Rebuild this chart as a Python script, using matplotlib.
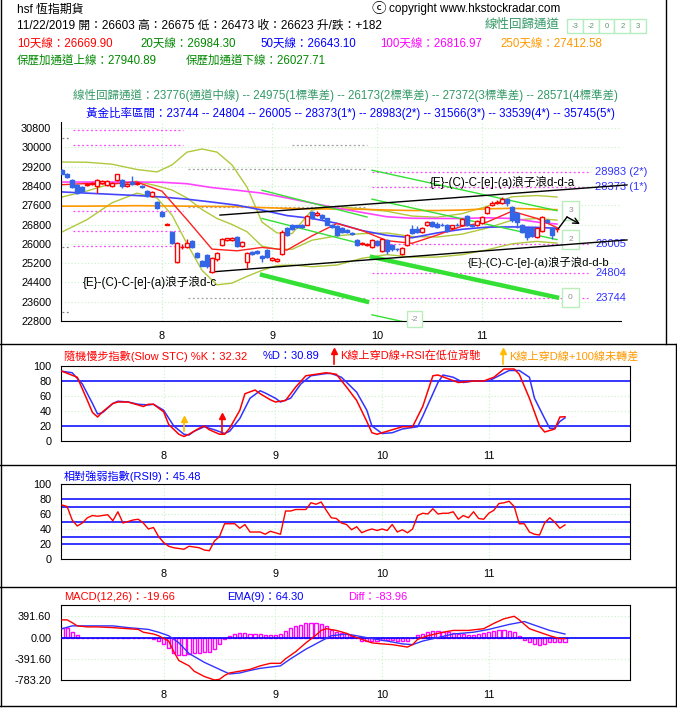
import numpy as np
import matplotlib
matplotlib.use('Agg')
import matplotlib.pyplot as plt
from matplotlib.lines import Line2D
from matplotlib.patches import Rectangle

plt.rcParams['font.family'] = ['Liberation Sans', 'Noto Sans CJK TC']

W, H = 677, 717

# ---------------- data ----------------
opens = [29050, 28880, 28640, 28430, 28340, 28440, 28460, 28400, 28500, 28420,
         28400, 28650, 28640, 28400, 28560, 28480, 28400, 28200, 27990, 27720,
         27320, 26800, 26500, 25250, 25850, 25880, 26100, 25620, 25280, 25520,
         24840, 25350, 25950, 26160, 26150, 26280, 25900, 25250, 25650, 25700,
         25500, 25730, 25340, 25300, 25560, 26650, 26760, 26760, 26800, 26800,
         27330, 27180, 27200, 27050, 26800, 26750, 26650, 26560, 26450, 26160,
         25980, 25950, 25870, 26100, 25700, 26160, 25950, 25800, 25580, 25950,
         26610, 26600, 26480, 26780, 26900, 26840, 26800, 26780, 26640, 26800,
         26760, 27150, 26780, 26760, 26860, 27270, 27620, 27680, 27700, 27870,
         27520, 27270, 26780, 26650, 26650, 26300, 26530, 26990, 26650, 26603]
closes = [28900, 28760, 28350, 28100, 28200, 28480, 28520, 28640, 28620, 28600,
          28500, 28880, 28380, 28460, 28460, 28520, 28340, 27990, 28130, 27500,
          27160, 26840, 26030, 26030, 25880, 26030, 25870, 25450, 25100, 25100,
          25420, 25620, 26200, 26220, 26240, 25900, 26080, 25620, 25580, 25620,
          25430, 25450, 25400, 25380, 26490, 26370, 26620, 26700, 26680, 27150,
          27060, 27290, 27050, 26800, 26680, 26370, 26490, 26480, 26400, 25950,
          26030, 25980, 26160, 25950, 26200, 25700, 25780, 25770, 25820, 26360,
          26450, 26500, 26640, 26900, 26720, 26700, 26760, 26540, 26760, 26760,
          27030, 26780, 26740, 26950, 27110, 27520, 27700, 27730, 27870, 27700,
          26990, 26900, 26490, 26280, 26330, 26650, 27110, 26920, 26360, 26623]
highs = [29100, 28920, 28680, 28470, 28380, 28520, 28560, 28680, 28660, 28640,
         28560, 28900, 28700, 28520, 28800, 28580, 28440, 28240, 28180, 27760,
         27360, 26880, 26540, 26060, 25980, 26200, 26150, 25660, 25320, 25560,
         25460, 25680, 26240, 26260, 26280, 26320, 26120, 25660, 25700, 25740,
         25540, 25780, 25460, 25420, 26560, 26700, 26820, 26800, 26840, 27200,
         27380, 27340, 27240, 27080, 26840, 26800, 26690, 26600, 26500, 26200,
         26060, 26020, 26200, 26140, 26240, 26200, 26000, 25840, 25860, 26400,
         26780, 26720, 26680, 26940, 26940, 26900, 26860, 26820, 26800, 26860,
         27060, 27200, 26820, 26980, 27160, 27560, 27760, 27800, 27920, 27900,
         27560, 27300, 26820, 26680, 26700, 26680, 27150, 27020, 26700, 26675]
lows = [28880, 28720, 28300, 28050, 28150, 28400, 28420, 28100, 28460, 28380,
        28350, 28620, 28320, 28340, 28420, 28440, 28300, 27940, 27960, 27440,
        27120, 26780, 25980, 25200, 25800, 25840, 25820, 25400, 25060, 25000,
        24800, 25300, 25900, 26120, 26100, 25860, 25860, 25000, 25520, 25560,
        25250, 25400, 25300, 25260, 25520, 26330, 26580, 26660, 26640, 26760,
        27020, 27140, 27000, 26760, 26640, 26330, 26450, 26440, 26360, 25900,
        25950, 25920, 25840, 25900, 25660, 25560, 25700, 25720, 25540, 25920,
        26420, 26460, 26440, 26740, 26680, 26660, 26720, 26500, 26600, 26720,
        26720, 26740, 26700, 26720, 26820, 27240, 27580, 27640, 27660, 27560,
        26900, 26650, 26450, 26150, 26280, 26260, 26500, 26880, 26200, 26473]

month_idx = [20, 42, 63, 84]
month_lbl = ['8', '9', '10', '11']
price_ticks = [22800, 23600, 24400, 25200, 26000, 26800, 27600, 28400, 29200, 30000, 30800]

# moving averages, sampled every 5 sessions
ma_idx = [0, 5, 10, 15, 20, 25, 30, 35, 40, 45, 50, 55, 60, 65, 70, 75, 80, 85, 90, 95, 99]
ma10 = [28450, 28500, 28480, 28560, 28180, 27000, 25780, 25710, 25850, 25740, 26330,
        26840, 26550, 26130, 26020, 26360, 26730, 26900, 27350, 27050, 26670]
ma50 = [28150, 28100, 28050, 28000, 27940, 27850, 27730, 27600, 27400, 27170, 27050,
        26850, 26550, 26350, 26250, 26450, 26600, 26690, 26700, 26680, 26643]
ma100 = [28560, 28560, 28560, 28560, 28550, 28490, 28330, 28220, 28100, 27900, 27690,
         27480, 27300, 27120, 27060, 27050, 27050, 27080, 27050, 26900, 26817]
ma250 = [27560, 27560, 27570, 27580, 27570, 27560, 27550, 27540, 27500, 27470, 27450,
         27440, 27430, 27400, 27380, 27380, 27400, 27450, 27470, 27440, 27413]

# bollinger channel
bb_idx = [0, 5, 10, 15, 19, 22, 25, 28, 31, 34, 37, 40, 43, 46, 50, 55, 60, 65, 70, 75, 80,
          85, 90, 95, 99]
bb_up = [29390, 29380, 29300, 29080, 28980, 29270, 29800, 29930, 29800, 29270, 28350, 26900,
         26450, 26420, 27400, 27550, 27450, 27350, 27150, 27100, 27250, 27550, 27950, 28000,
         27941]
bb_mid = [27940, 28190, 28500, 28590, 28400, 28230, 27900, 27420, 27050, 26800, 26500, 25900,
          25780, 25770, 26150, 26330, 26420, 26450, 26300, 26280, 26400, 26650, 26980, 27050,
          26984]
bb_low = [26490, 27000, 27700, 28100, 27900, 27190, 26000, 24900, 24300, 24370, 24650, 24900,
          25100, 25120, 25050, 25120, 25400, 25550, 25450, 25450, 25550, 25750, 26000, 26100,
          26028]

# golden ratio levels
gold_levels = [28983, 28373, 26005, 24804, 23744]
gold_labels = ['28983 (2*)', '28373 (1*)', '26005', '24804', '23744']
old_gold_levels = [30720, 30100, 27340, 26510, 25890]
gray_levels = [29100, 27530, 23750, 22800]
gray_top_level = 30100
gray_short_levels = [30390, 25870, 23170]

# linear regression channels (centre line at start/end, sigma)
new_chan_days = [62, 99]
new_chan_mid = [25453, 23776]
new_chan_sigma = 1199
new_chan_levels = [3, 2, 0, -2]
old_chan_days = [40, 61]
old_chan_mid = [24710, 23600]
old_chan_sigma = 1170
old_chan_levels = [3, 2, 0]
chan_legend = ['-3', '-2', '0', '2', '3']

# trend lines
upper_trend_days = [31.6, 113]
upper_trend_px = [27190, 28440]
lower_trend_days = [29.6, 113]
lower_trend_px = [24830, 26160]
proj_days = [99.2, 101, 103.6]
proj_px = [26610, 27110, 26820]

# slow stochastic
stc_k_idx = [0, 3, 5, 6, 7, 8, 10, 11, 13, 15, 16, 17, 18, 20, 21, 23, 24, 25, 27, 28, 29,
             31, 32, 33, 35, 36, 38, 39, 41, 42, 44, 46, 48, 50, 52, 54, 56, 58, 60, 61, 62,
             64, 67, 69, 71, 73, 74, 76, 78, 81, 83, 85, 87, 89, 90, 92, 94, 95, 97, 98, 99]
stc_k = [93, 85, 54, 38, 32, 39, 50, 52, 52, 48, 46, 49, 49, 39, 22, 9, 6, 9, 17, 20, 15,
         9, 9, 17, 41, 63, 68, 63, 55, 52, 54, 72, 87, 89, 91, 89, 72, 54, 26, 11, 9,
         13, 19, 19, 46, 87, 88, 83, 78, 80, 80, 85, 96, 96, 89, 57, 20, 12, 16, 32, 32.32]
stc_d_idx = [0, 2, 4, 6, 7, 8, 10, 11, 13, 15, 17, 18, 20, 22, 24, 25, 26, 28, 30, 32, 33,
             35, 37, 39, 40, 42, 43, 45, 47, 49, 52, 53, 55, 58, 60, 61, 63, 65, 67, 70, 71,
             74, 75, 77, 79, 81, 84, 86, 88, 90, 92, 93, 95, 96, 97, 98, 99]
stc_d = [93, 91, 76, 50, 36, 38, 50, 53, 52, 49, 48, 49, 41, 20, 9, 8, 13, 19, 15, 10, 13,
         30, 57, 67, 64, 57, 52, 57, 76, 87, 90, 90, 85, 65, 41, 20, 10, 11, 16, 19, 33,
         78, 88, 85, 78, 80, 80, 87, 94, 94, 85, 57, 30, 17, 17, 26, 30.89]
orange_sig_day = 24
red_sig_day = 31.5

# RSI(9)
rsi = [72, 70, 52, 44, 48, 55, 58, 57, 58, 59, 51, 63, 48, 50, 52, 53, 48, 40, 42, 30,
       22, 17, 15, 14, 13, 17, 16, 15, 12, 11, 24, 30, 47, 47, 47, 41, 46, 36, 36, 36,
       33, 37, 35, 33, 64, 64, 66, 66, 66, 75, 73, 76, 65, 55, 54, 48, 46, 39, 43, 35,
       38, 40, 38, 40, 38, 46, 36, 39, 35, 40, 58, 61, 60, 67, 60, 61, 61, 63, 53, 58,
       55, 63, 54, 53, 61, 65, 74, 75, 77, 70, 47, 47, 36, 33, 32, 48, 55, 49, 41, 45.48]

# MACD
macd_idx = [0, 1, 2, 3, 5, 7, 10, 13, 15, 16, 18, 19, 21, 22, 23, 25, 26, 28, 30, 31, 32, 33,
            35, 37, 39, 41, 43, 44, 46, 48, 50, 51, 52, 54, 56, 57, 59, 61, 63, 65, 68, 69,
            70, 72, 75, 77, 80, 83, 85, 87, 89, 90, 92, 95, 96, 98, 99]
macd = [326, 326, 274, 215, 196, 196, 183, 163, 150, 98, 65, 33, -65, -261, -424, -522,
        -620, -718, -783, -770, -700, -653, -620, -587, -522, -476, -476, -392, -261, -98,
        46, 131, 163, 131, 78, 33, -33, -98, -117, -131, -176, -131, -33, 33, 98, 131, 131,
        163, 261, 346, 392, 326, 163, 65, 33, -20, -19.66]
ema_idx = [0, 2, 5, 10, 13, 17, 19, 21, 23, 25, 28, 31, 33, 35, 37, 39, 43, 45, 48, 51, 53,
           56, 58, 61, 64, 67, 69, 71, 74, 77, 81, 84, 88, 91, 93, 96, 99]
ema = [163, 215, 215, 215, 183, 150, 98, 33, -98, -294, -457, -587, -672, -653, -607, -568,
       -522, -392, -215, -65, 33, 65, 33, -20, -65, -117, -131, -65, 0, 65, 98, 150, 241,
       294, 228, 131, 64.30]
diff = [176, 176, 98, 46, -10, -10, -8, -8, -8, -8, -8, -8, -8, -8, -8, -8, -8, -8, -30, -65,
        -120, -190, -294, -326, -326, -305, -290, -281, -275, -261, -220, -120, -33, 30, 70,
        85, 85, 68, 65, 60, 52, 52, 52, 60, 125, 180, 215, 235, 261, 261, 261, 255, 220, 140,
        95, 75, 60, 30, -5, -55, -65, -65, -62, -50, -46, -46, -55, -65, -65, -5, 45, 70, 105,
        125, 115, 98, 98, 82, 70, 62, 52, 52, 60, 75, 100, 128, 140, 140, 128, 98, 20, -40,
        -90, -111, -131, -115, -90, -85, -85, -83.96]

# ---------------- figure ----------------
fig = plt.figure(figsize=(W / 100, H / 100), dpi=100)


def axes_px(l, t, r, b):
    return fig.add_axes([l / W, 1 - b / H, (r - l) / W, (b - t) / H])


def ftext(x, y, s, **kw):
    kw.setdefault('va', 'center')
    kw.setdefault('fontsize', 8.3)
    return fig.text(x / W, 1 - y / H, s, **kw)


def fline(xs, ys, color='black', lw=1):
    fig.add_artist(Line2D([x / W for x in xs], [1 - y / H for y in ys],
                          transform=fig.transFigure, color=color, lw=lw))


def farrow(x, y0, y1, color):
    # thin up arrow in the panel titles
    fline([x, x], [y0, y1 + 3], color=color, lw=1.2)
    fig.add_artist(Line2D([x / W], [1 - (y1 + 2) / H], transform=fig.transFigure,
                          marker='^', ms=5, color=color, lw=0))


GRID = '#c6f2c6'
BLUE_C = '#3366e6'
XLIM = (-0.2, 111.8)
TICK_FS = 7.8

# ---- header ----
ftext(17, 10, 'hsf 恆指期貨', fontsize=8.6)
ftext(17, 26, '11/22/2019 開：26603 高：26675 低：26473 收：26623 升/跌：+182', fontsize=8.5)
ftext(371, 9, 'ⓒ', fontsize=10.5)
ftext(389, 9, 'copyright www.hkstockradar.com', fontsize=8.5)
ftext(485, 25, '線性回歸通道', fontsize=9, color='#339966')
for k, lab in enumerate(chan_legend):
    x0 = 567 + k * 15.8
    fig.add_artist(Rectangle((x0 / W, 1 - 33 / H), 15.8 / W, 14 / H, transform=fig.transFigure,
                             fc='white', ec='#b4eec0', lw=1))
    ftext(x0 + 7.9, 26, lab, fontsize=5.5, color='#5a9a6a', ha='center')
ftext(17, 44, '10天線：26669.90', color='#ff0000')
ftext(140, 44, '20天線：26984.30', color='#008800')
ftext(260, 44, '50天線：26643.10', color='#0000ff')
ftext(380, 44, '100天線：26816.97', color='#ff00ff')
ftext(500, 44, '250天線：27412.58', color='#ff9900')
ftext(17, 61, '保歷加通道上線：27940.89', color='#008800')
ftext(186, 61, '保歷加通道下線：26027.71', color='#008800')
ftext(345, 96, '線性回歸通道：23776(通道中線) -- 24975(1標準差) -- 26173(2標準差) -- '
      '27372(3標準差) -- 28571(4標準差)', color='#339966', ha='center')
ftext(350, 113, '黃金比率區間：23744 -- 24804 -- 26005 -- 28373(1*) -- 28983(2*) -- '
      '31566(3*) -- 33539(4*) -- 35745(5*)', color='#0000ff', ha='center')

# ---- main price chart ----
ax = axes_px(61, 122, 621, 321)
ax.set_xlim(*XLIM)
ax.set_ylim(22800, 31049)
for s in ['top', 'right']:
    ax.spines[s].set_visible(False)
ax.set_yticks(price_ticks)
ax.set_xticks(month_idx)
ax.set_xticklabels(month_lbl)
ax.tick_params(length=0, labelsize=TICK_FS, pad=7)
for v in price_ticks:
    ax.axhline(v, color=GRID, ls=(0, (1, 2)), lw=0.8, zorder=0)
for m in month_idx:
    ax.axvline(m, color=GRID, ls=(0, (1, 2)), lw=0.8, zorder=0)

# dotted level lines
for v in old_gold_levels:
    ax.plot([2.2, 24.2], [v, v], color='#ff44ff', ls=(0, (1.5, 2)), lw=0.9, zorder=1)
for v in gray_levels:
    ax.plot([25.2, 61], [v, v], color='#a0a0a0', ls=(0, (1.5, 2)), lw=0.9, zorder=1)
ax.plot([46, 61], [gray_top_level] * 2, color='#a0a0a0', ls=(0, (1.5, 2)), lw=0.9, zorder=1)
for v in gray_short_levels:
    ax.plot([0, 1.6], [v, v], color='#808080', ls=(0, (1.5, 2)), lw=0.9, zorder=1)
for v, lab in zip(gold_levels, gold_labels):
    ax.plot([62, 105.2], [v, v], color='#ff44ff', ls=(0, (1.5, 2)), lw=0.9, zorder=1)
    ax.text(106.6, v, lab, color='#3333ff', fontsize=8, va='center', clip_on=False)

# moving averages & bollinger
ax.plot(bb_idx, bb_up, color='#b0c83c', lw=1, zorder=2)
ax.plot(bb_idx, bb_mid, color='#b0c83c', lw=1, zorder=2)
ax.plot(bb_idx, bb_low, color='#b0c83c', lw=1, zorder=2)
ax.plot(ma_idx, ma250, color='#ff9900', lw=1.2, zorder=2)
ax.plot(ma_idx, ma100, color='#ff44ff', lw=1.2, zorder=2)
ax.plot(ma_idx, ma50, color='#4444ff', lw=1.2, zorder=2)
ax.plot(ma_idx, ma10, color='#ff2020', lw=1, zorder=2)

# regression channels
for days, mid, sig, levels in [(old_chan_days, old_chan_mid, old_chan_sigma, old_chan_levels),
                               (new_chan_days, new_chan_mid, new_chan_sigma, new_chan_levels)]:
    for lv in levels:
        ys = [m + lv * sig for m in mid]
        ax.plot(days, ys, color='#33e033', lw=3.2 if lv == 0 else 1, zorder=3)
for lv in [3, 2, 0]:
    ax.text(101.7, new_chan_mid[1] + lv * new_chan_sigma, str(lv), fontsize=6,
            color='#909090', ha='center', va='center', clip_on=False,
            bbox=dict(boxstyle='square,pad=0.75', fc='white', ec='#b8eeb8', lw=1))
ax.text(70.5, 22880, '-2', fontsize=6, color='#909090', ha='center', va='center',
        clip_on=False, bbox=dict(boxstyle='square,pad=0.5', fc='white', ec='#b8eeb8', lw=1))

# trend lines
ax.plot(upper_trend_days, upper_trend_px, color='black', lw=1, zorder=3, clip_on=False)
ax.plot(lower_trend_days, lower_trend_px, color='black', lw=1, zorder=3, clip_on=False)
ax.plot(proj_days[:2], proj_px[:2], color='black', lw=1, zorder=3)
ax.annotate('', xy=(proj_days[2], proj_px[2]), xytext=(proj_days[1], proj_px[1]),
            arrowprops=dict(arrowstyle='->', color='black', lw=1, shrinkA=0, shrinkB=0))

# candles
idx = np.arange(len(closes))
o = np.array(opens, float)
c = np.array(closes, float)
hi = np.array(highs, float)
lo = np.array(lows, float)
up = c >= o
body_lo = np.minimum(o, c)
body_h = np.maximum(np.abs(c - o), 25)
ax.vlines(idx[up], lo[up], hi[up], color='#ff0000', lw=1, zorder=4)
ax.vlines(idx[~up], lo[~up], hi[~up], color=BLUE_C, lw=1, zorder=4)
ax.bar(idx[up], body_h[up], bottom=body_lo[up], width=0.72, facecolor='white',
       edgecolor='#ff0000', lw=1, zorder=5)
ax.bar(idx[~up], body_h[~up], bottom=body_lo[~up], width=0.72, facecolor=BLUE_C,
       edgecolor=BLUE_C, lw=1, zorder=5)

ax.text(4.2, 24380, '{E}-(C)-C-[e]-(a)浪子浪d-c', fontsize=8.4, va='center', zorder=6)
ax.text(73.6, 28560, '{E}-(C)-C-[e]-(a)浪子浪d-d-a', fontsize=8.4, va='center', zorder=6)
ax.text(81.2, 25250, '{E}-(C)-C-[e]-(a)浪子浪d-d-b', fontsize=8.2, va='center', zorder=6)


def lower_panel(t, b):
    a = axes_px(61, t, 630, b)
    a.set_xlim(*XLIM)
    a.set_xticks(month_idx)
    a.set_xticklabels(month_lbl)
    a.tick_params(length=0, labelsize=TICK_FS, pad=7)
    for m in month_idx:
        a.axvline(m, color=GRID, ls=(0, (1, 2)), lw=0.8, zorder=0)
    return a


# ---- slow stochastic ----
a1 = lower_panel(366, 441)
a1.set_ylim(0, 100)
a1.set_yticks([0, 20, 40, 60, 80, 100])
for v in [40, 60]:
    a1.axhline(v, color=GRID, ls=(0, (1, 2)), lw=0.8, zorder=0)
for v in [20, 80]:
    a1.axhline(v, color='#0000ff', lw=1.1, zorder=1)
a1.plot(stc_d_idx, stc_d, color='#3333ff', lw=1.1, zorder=3)
a1.plot(stc_k_idx, stc_k, color='#ff0000', lw=1.1, zorder=3)
a1.plot([orange_sig_day, orange_sig_day], [13, 28], color='#ffbb00', lw=1.2, zorder=4)
a1.plot([orange_sig_day], [30], marker='^', ms=5, color='#ffbb00', zorder=4)
a1.plot([red_sig_day, red_sig_day], [9, 32], color='#ff0000', lw=1.2, zorder=4)
a1.plot([red_sig_day], [34], marker='^', ms=5, color='#ff0000', zorder=4)
ftext(64, 356, '隨機慢步指數(Slow STC) %K：32.32', color='#ff0000', fontsize=8)
ftext(263, 356, '%D：30.89', color='#0000ff', fontsize=8)
farrow(334, 364, 349, '#ff0000')
ftext(340, 356, 'K線上穿D線+RSI在低位背馳', color='#ff0000', fontsize=8)
farrow(503, 364, 349, '#ffbb00')
ftext(509, 356, 'K線上穿D線+100線未轉差', color='#ff9900', fontsize=8)

# ---- RSI ----
a2 = lower_panel(484, 559)
a2.set_ylim(0, 100)
a2.set_yticks([0, 20, 40, 60, 80, 100])
for v in [40, 60]:
    a2.axhline(v, color=GRID, ls=(0, (1, 2)), lw=0.8, zorder=0)
for v in [20, 30, 50, 70, 80]:
    a2.axhline(v, color='#0000ff', lw=1.1, zorder=1)
a2.plot(np.arange(len(rsi)), rsi, color='#ff0000', lw=1, zorder=3)
ftext(64, 476, '相對強弱指數(RSI9)：45.48', color='#0000ff', fontsize=8)

# ---- MACD ----
a3 = lower_panel(605, 680)
a3.set_ylim(-783.2, 600)
a3.set_yticks([391.6, 0, -391.6, -783.2])
a3.set_yticklabels(['391.60', '0.00', '-391.60', '-783.20'])
for v in [391.6, -391.6]:
    a3.axhline(v, color=GRID, ls=(0, (1, 2)), lw=0.8, zorder=0)
d = np.array(diff)
a3.bar(np.arange(len(d)), d, width=0.62, facecolor='white', edgecolor='#ff00ff', lw=1, zorder=2)
a3.axhline(0, color='#0000ff', lw=1.2, zorder=3)
a3.plot(ema_idx, ema, color='#3333ff', lw=1, zorder=4)
a3.plot(macd_idx, macd, color='#ff0000', lw=1, zorder=4)
ftext(64, 597, 'MACD(12,26)：-19.66', color='#ff0000', fontsize=8)
ftext(227, 597, 'EMA(9)：64.30', color='#0000ff', fontsize=8)
ftext(348, 597, 'Diff：-83.96', color='#ff00ff', fontsize=8)

# ---- frame / separators ----
fline([0.5, 0.5], [0, 706])
fline([666, 666], [0, 344])
fline([676, 676], [344, 706])
fline([0, 676], [344, 344])
fline([0, 676], [465, 465])
fline([0, 676], [587, 587])
fline([0, 676], [706, 706])

fig.savefig('out.png', dpi=100)
